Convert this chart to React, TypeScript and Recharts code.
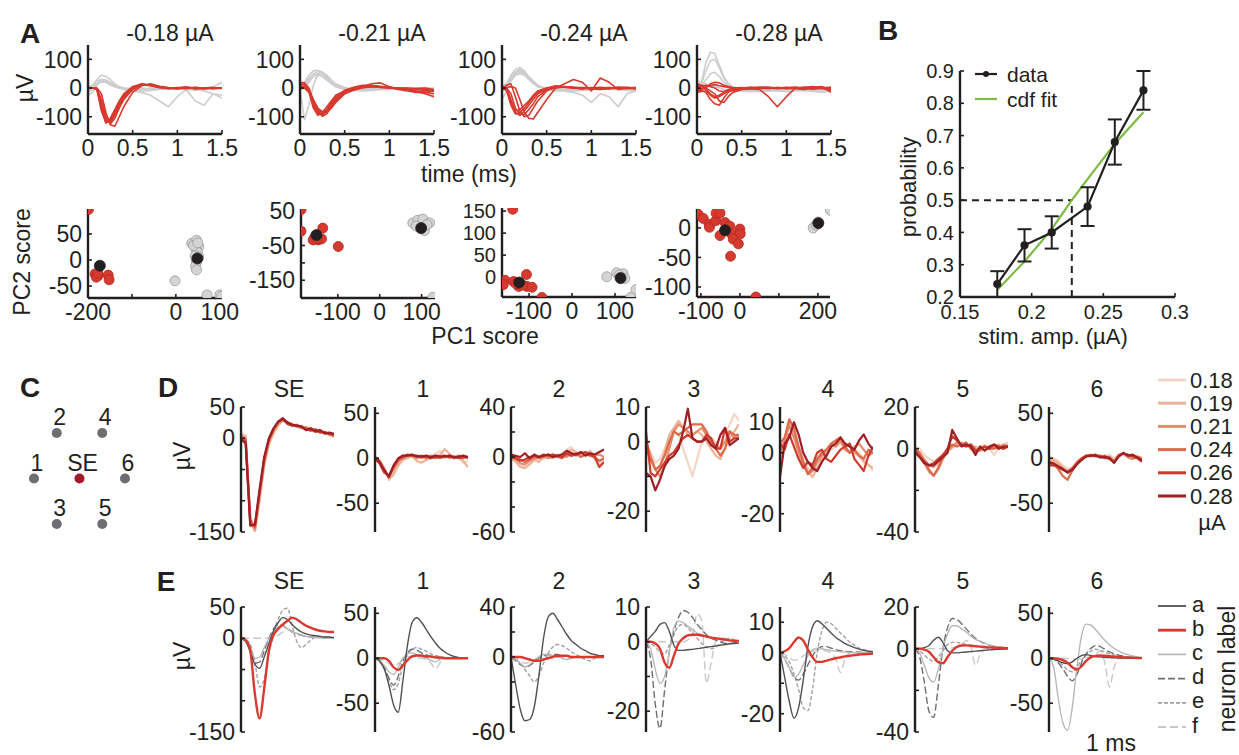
import React from "react";
import {
  LineChart,
  Line,
  XAxis,
  YAxis,
  ScatterChart,
  Scatter,
  ErrorBar,
  ReferenceLine,
} from "recharts";

const FONT = '"Liberation Sans", Arial, Helvetica, sans-serif';
const INK = "#231f20";
const FS = 23;

// ---------- A: single-electrode waveforms at four amplitudes ----------
const timeMs = [0, 0.05, 0.1, 0.15, 0.2, 0.25, 0.3, 0.35, 0.4, 0.5, 0.6, 0.7, 0.8, 0.9, 1.0, 1.1, 1.2, 1.3, 1.4, 1.5];
const ampTitles = ["-0.18 µA", "-0.21 µA", "-0.24 µA", "-0.28 µA"];
const timeTicks = [0, 0.5, 1, 1.5];
const timeTickText = ["0", "0.5", "1", "1.5"];
const uvTicks = [-100, 0, 100];
const uvTickText = ["-100", "0", "100"];

const evoked018 = [
  [0, 0, -5, -80, -120, -105, -75, -45, -20, 5, 12, 8, 2, 0, -2, 3, 0, -2, 0, 0],
  [0, 0, -3, -60, -115, -118, -90, -58, -30, 2, 14, 10, 3, -2, 0, 4, -3, 0, 2, 0],
  [2, 1, -2, -40, -100, -125, -105, -70, -40, -5, 10, 12, 5, 0, 2, 0, 3, -2, 0, 1],
  [0, 0, 0, -20, -85, -128, -133, -100, -65, -15, 8, 15, 6, 2, 0, -2, 2, 0, -3, 0],
  [0, 0, -4, -70, -122, -112, -80, -50, -25, 3, 15, 9, 1, 0, -3, 2, 0, 1, 0, -1],
  [1, 0, -2, -55, -110, -120, -95, -60, -35, 0, 12, 11, 4, -1, 1, 3, -1, -2, 1, 0],
];
const other018 = [
  [-10, 5, 30, 45, 40, 30, 15, 5, 0, -5, -3, 0, -2, -3, -2, 0, -2, 0, 2, 0],
  [-25, -15, 10, 30, 25, 15, 5, 0, -5, -10, -15, -25, -45, -65, -30, -5, -45, -60, -20, -35],
  [0, 10, 25, 30, 28, 20, 10, 0, -3, -5, -5, -2, 0, -3, -2, -5, -8, 0, 5, 20],
  [-15, -5, 15, 25, 20, 10, 5, 2, 0, -8, -10, -8, -5, -5, -3, -5, -3, -10, -20, -25],
  [5, 8, 15, 20, 22, 15, 8, 3, 0, -2, 0, -3, -2, 0, -1, -2, 0, -1, 0, -2],
];
const evoked021 = [
  [20, 18, 0, -50, -85, -95, -80, -55, -35, -12, 0, 8, 10, 5, 2, 0, -5, -10, -15, -20],
  [15, 12, -5, -60, -90, -92, -75, -50, -30, -8, 3, 10, 8, 3, 0, -2, -5, -12, -20, -30],
  [0, 0, -10, -55, -80, -98, -90, -65, -45, -15, -5, 5, 15, 18, 5, -5, -10, -15, -15, -10],
  [2, 0, -15, -70, -95, -85, -65, -45, -25, -10, 0, 3, 5, 2, 0, -2, -3, -2, 0, -5],
  [8, 6, -8, -45, -75, -88, -85, -70, -50, -20, -8, 2, 6, 4, 2, 0, 0, -2, -5, -8],
  [5, 4, -3, -40, -70, -82, -78, -60, -40, -18, -6, 0, 5, 6, 3, 0, -2, -5, -8, -12],
];
const other021 = [
  [5, 20, 45, 60, 62, 55, 40, 25, 12, 0, -5, -5, -3, -2, 0, -2, -3, 0, -2, -5],
  [-10, 0, 30, 50, 58, 50, 35, 20, 8, -3, -8, -6, -5, -3, -5, -3, 0, -2, -5, -3],
  [-5, -110, -60, 10, 50, 55, 45, 28, 15, 2, -5, -8, -6, -4, -2, -3, -2, -1, 0, -2],
  [10, 15, 35, 48, 50, 42, 30, 18, 5, -5, -8, -10, -8, -6, -5, -4, -3, -5, -4, -6],
  [0, 5, 20, 40, 45, 40, 28, 15, 5, -2, -3, -4, -3, -2, -3, -2, -2, -1, 0, 0],
];
const evoked024 = [
  [0, -5, -60, -90, -85, -70, -50, -30, -15, 0, 3, 2, 0, -2, 0, 3, 0, -2, 0, 2],
  [5, 0, -40, -85, -95, -80, -60, -40, -20, -5, 0, 5, 2, 0, -2, 0, 2, 0, -2, 0],
  [-5, 10, 15, -30, -80, -100, -95, -70, -45, -10, 5, 3, 0, -3, 2, 0, -2, 3, 0, -3],
  [0, 2, 5, 0, -40, -85, -105, -108, -85, -40, 0, 15, 30, 20, -10, 35, 20, -5, 0, 2],
  [3, 0, -20, -70, -90, -92, -75, -55, -30, -8, 2, 4, 3, 0, -3, -5, -2, 0, 3, 0],
  [-3, -8, -50, -80, -75, -60, -45, -25, -10, 0, 8, 5, 3, 2, 0, -2, 0, 3, 2, -2],
];
const other024 = [
  [0, 15, 45, 65, 72, 60, 40, 25, 10, -5, -10, -8, -5, -3, -2, 0, -2, 0, -3, -2],
  [-40, -10, 30, 55, 65, 55, 38, 20, 8, -3, -8, -10, -15, -25, -50, -20, -30, -65, -20, -10],
  [5, 10, 35, 55, 60, 50, 35, 20, 5, -5, -5, -8, -10, -8, -5, -5, -3, -5, -8, -10],
  [0, 5, 25, 45, 50, 45, 30, 15, 5, 0, -3, -5, -3, -2, -3, -2, -1, -2, -3, -2],
  [10, 12, 30, 48, 55, 48, 32, 18, 6, -2, -6, -6, -8, -6, -4, -3, -4, -6, -5, -3],
];
const evoked028 = [
  [-5, -8, -15, -40, -55, -60, -35, -15, -5, 0, 3, 2, 0, -2, 0, 2, 0, -3, 0, 2],
  [10, 5, -5, -20, -30, -25, -15, -5, 0, 2, 0, -2, 0, 2, -1, 0, 2, 0, -2, 0],
  [-10, -5, 0, 15, 20, 18, 10, 5, 2, 0, -2, -5, -30, -65, -30, 0, 2, -3, 0, -10],
  [15, 10, 0, -10, -20, -45, -50, -30, -15, -5, 0, 3, 2, 0, 3, 2, 0, 2, 5, -15],
  [0, -3, 5, 10, 12, 8, 5, 3, 0, -2, 0, 2, 3, 0, -2, 0, 3, 5, 0, 3],
  [-15, -12, -10, -25, -35, -30, -20, -10, -8, -5, -3, 0, 2, 0, 0, -2, -5, 0, 2, -5],
  [5, 8, 10, 5, 0, -10, -12, -8, -3, 0, 2, 0, -2, 2, 0, 3, 0, -2, 3, 0],
];
const other028 = [
  [10, 20, 90, 125, 120, 80, 40, 15, 5, -5, -8, -10, -8, -5, -3, -5, -8, -10, -5, -5],
  [5, 15, 60, 95, 100, 70, 35, 12, 2, -5, -10, -12, -10, -8, -6, -5, -6, -8, -10, -8],
  [0, 5, 30, 50, 55, 40, 20, 5, 0, -5, -5, -8, -6, -5, -5, -3, -4, -5, -6, -5],
  [25, 20, 15, 10, 5, 0, -5, -8, -10, -10, -12, -10, -8, -10, -12, -10, -8, -12, -15, -10],
];

// ---------- A: PCA scores (PC1, PC2) ----------
const pcRed1 = [[-199, 97], [-184, -27], [-177, -30], [-181, -33], [-178, -25], [-154, -29], [-152, -38]];
const pcGray1 = [[36, 32], [47, 38], [43, 26], [52, 26], [46, 20], [49, 15], [44, 8], [52, 6], [47, 2], [47, -4], [45, -12], [47, -19], [40, 28], [50, 33], [-2, -40], [71, -67], [100, -67], [104, -70]];
const pcMean1 = [[-173, -11], [49, 3]];
const pcRed2 = [[-188, 53], [-188, -9], [-136, 0], [-155, -26], [-147, -34], [-139, -31], [-159, -34], [-150, -30], [-99, -53]];
const pcGray2 = [[79, 15], [91, 23], [103, 26], [119, 15], [95, 1], [107, -7], [87, 6], [113, 10], [127, -199]];
const pcMean2 = [[-151, -20], [99, 0]];
const pcRed3 = [[-138, 154], [-156, -7], [-160, -17], [-136, -10], [-124, -21], [-106, 6], [-105, -21], [-93, -23], [-70, -46], [-130, -15], [-115, -18]];
const pcGray3 = [[81, 1], [104, 10], [119, 8], [123, -3], [110, 5], [149, -28], [137, -46]];
const pcMean3 = [[-123, -12], [113, -2]];
const pcRed4 = [[-107, 23], [-94, 16], [-79, 6], [-78, 1], [-62, 12], [-61, 25], [-51, 25], [-38, 9], [-26, 3], [-51, -13], [-22, -10], [0, -2], [1, -10], [-17, -19], [-4, -27], [-24, -48], [41, -117]];
const pcGray4 = [[232, 30], [188, 0], [201, 10], [195, 5]];
const pcMean4 = [[-38, -4], [201, 8]];

// ---------- B: activation probability vs stimulus amplitude ----------
const stimAmp = [0.176, 0.195, 0.214, 0.239, 0.258, 0.278];
const probability = [0.24, 0.36, 0.4, 0.48, 0.68, 0.84];
const probErr = [0.04, 0.05, 0.05, 0.06, 0.07, 0.06];
const cdfAmp = [0.176, 0.195, 0.214, 0.228, 0.239, 0.258, 0.278];
const cdfProb = [0.222, 0.31, 0.41, 0.5, 0.565, 0.675, 0.772];
const threshold = 0.228;
const ampTicks = [0.15, 0.2, 0.25, 0.3];
const probTicks = [0.2, 0.3, 0.4, 0.5, 0.6, 0.7, 0.8, 0.9];

// ---------- C: electrode layout ----------
const electrodeNames = ["1", "2", "3", "SE", "4", "5", "6"];
const electrodeCol = [-2, -1, -1, 0, 1, 1, 2];
const electrodeRow = [0, 1, -1, 0, 1, -1, 0];

// ---------- D / E: mean waveforms per electrode ----------
const sampleMs = [0, 0.1, 0.2, 0.3, 0.4, 0.5, 0.6, 0.7, 0.8, 0.9, 1.0, 1.1, 1.2, 1.3, 1.4, 1.5, 1.6, 1.7, 1.8, 1.9, 2.0];
const electrodeTitles = ["SE", "1", "2", "3", "4", "5", "6"];
const stimLabels = ["0.18", "0.19", "0.21", "0.24", "0.26", "0.28"];
const stimColors = ["#f3d6c6", "#edb398", "#e48c6c", "#dc6a4e", "#cc3b2d", "#9e1f24"];
const neuronLabels = ["a", "b", "c", "d", "e", "f"];

const yDomains: [number, number][] = [[-150, 50], [-82, 57], [-60, 40], [-26, 10], [-26, 15], [-40, 20], [-82, 57]];
const yTickSets = [[-150, -100, -50, 0, 50], [-50, 0, 50], [-60, -40, -20, 0, 20, 40], [-20, -10, 0, 10], [-20, -10, 0, 10], [-40, -20, 0, 20], [-50, 0, 50]];
const yTickTexts = [["-150", "", "", "0", "50"], ["-50", "0", "50"], ["-60", "", "", "0", "", "40"], ["-20", "", "0", "10"], ["-20", "", "0", "10"], ["-40", "", "0", "20"], ["-50", "0", "50"]];

// rows: 0.18, 0.19, 0.21, 0.24, 0.26, 0.28 µA
const avgSE = [
  [8, 5, -125, -148, -95, -40, -8, 10, 22, 28, 27, 22, 20, 18, 15, 17, 12, 14, 8, 6, 3],
  [6, 2, -130, -150, -100, -45, -10, 8, 20, 30, 25, 23, 18, 20, 16, 14, 15, 10, 10, 5, 4],
  [4, 0, -135, -145, -90, -38, -5, 12, 24, 29, 26, 20, 22, 16, 18, 13, 12, 12, 7, 8, 2],
  [2, -2, -130, -142, -88, -35, -4, 14, 25, 31, 24, 21, 19, 17, 14, 15, 10, 11, 9, 6, 5],
  [0, -5, -138, -140, -85, -32, -2, 15, 26, 30, 23, 20, 21, 18, 15, 12, 14, 9, 10, 7, 6],
  [-2, -8, -140, -138, -82, -30, 0, 16, 27, 32, 25, 22, 20, 19, 13, 16, 11, 13, 8, 9, 7],
];
const avg1 = [
  [0, -3, -12, -22, -15, -5, 0, 2, 3, 2, 0, 3, 2, 5, 8, 3, 0, 2, 0, -5, -3],
  [2, -2, -10, -24, -18, -8, -2, 0, 3, -3, -5, -2, 0, 2, 4, 10, 5, 0, 2, -3, -10],
  [0, -4, -14, -21, -12, -4, 2, 4, 2, 0, 2, 0, 3, 1, 0, 2, 3, 1, 3, 0, 2],
  [-1, -5, -15, -20, -10, -2, 0, 3, 4, 2, 3, 1, 2, 0, 2, 1, 2, 0, 1, 2, 0],
  [0, -6, -16, -19, -9, -1, 2, 4, 3, 3, 1, 2, 0, 2, 1, 3, 1, 2, 0, 1, 2],
  [1, -4, -13, -21, -8, 0, 3, 3, 4, 2, 2, 3, 1, 3, 2, 2, 3, 1, 2, 3, 1],
];
const avg2 = [
  [-2, -3, -6, -8, -5, -3, 0, -2, 0, 2, 0, 3, 6, 8, 2, 0, 3, 2, -2, -4, -6],
  [0, -4, -8, -9, -6, -2, -4, 0, 1, -1, 2, 0, 3, 6, 4, 1, 2, 5, 0, -3, -2],
  [-1, -2, -5, -6, -3, -1, 0, 1, -1, 0, 1, 2, 0, 3, 1, 4, 2, 3, 1, 2, 0],
  [1, 0, -2, -4, -2, 0, -1, 0, 2, 1, 0, -1, 2, 1, 3, 0, 2, 1, 0, -3, -1],
  [0, -1, -3, -2, 0, 1, 0, 2, 1, 2, 1, 0, 3, 1, 2, 3, 4, 2, 0, -8, -4],
  [2, 1, 0, 3, -1, 2, 0, 1, 2, 0, 1, 2, 5, 3, 2, 4, 1, 3, 2, 4, 6],
];
const avg3 = [
  [-1, -3, -6, -5, -2, 1, 3, 2, -2, -6, -10, -5, 0, 2, 1, 0, -2, 2, 5, 8, 6],
  [-2, -5, -8, -7, -3, 2, 4, 6, 4, 2, 2, 3, 2, 0, -2, -4, -5, -2, 1, 3, 5],
  [0, -4, -8, -10, -7, -2, 3, 5, 4, 3, 2, 3, 4, 2, 0, -1, -2, 0, 3, 1, 2],
  [-2, -5, -8, -7, -4, 0, 3, 2, 3, 4, 5, 5, 5, 3, 0, -2, -4, -2, 3, 2, 2],
  [3, -9, -10, -8, -6, -4, -3, -1, 1, 2, 1, 0, 0, 2, 1, -2, -2, 4, 0, 1, 1],
  [-9, -10, -14, -11, -7, -5, -4, -2, 3, 9.5, 1, 0, 0, 1, -1, -2, 2, 4, -1, 0, 1],
];
const avg4 = [
  [-2, 2, 6, 5, 2, -2, -5, -6, -4, -2, 0, 1, 2, 3, 2, 3, 1, 0, -2, -4, -6],
  [-3, 3, 10, 6, 1, -3, -6, -8, -5, -2, 0, 2, 3, 4, 3, 2, 0, -1, -3, -4, -5],
  [0, 4, 9, 5, 0, -4, -7, -6, -3, -1, 1, 3, 2, 4, 1, 0, 2, 3, 1, -1, 0],
  [3, 5, 11, 8, 2, -3, -7, -5, -2, 0, 1, 3, 4, 5, 2, 0, 1, -1, -2, 1, 0],
  [3, 1, 6, 2, -2, -5, -3, -4, 0, 1, -2, -3, -1, 1, 2, 3, -2, -4, -6, -1, 2],
  [-8, 3, 5, 10, 6, 0, -3, -5, -6, -3, -1, 2, 3, 5, 3, 2, 1, 4, 6, 3, 1],
];
const avg5 = [
  [1, 0, -3, -5, -6, -5, -3, -1, 0, 2, 3, 2, 1, 0, 1, 2, 0, -3, 0, 2, 3],
  [0, -2, -5, -8, -9, -7, -4, -1, 1, 2, 3, 2, 0, 1, -1, 0, 1, 0, 2, 1, 2],
  [-1, -3, -7, -11, -13, -10, -5, -1, 1, 3, 2, 1, 2, 0, -1, 1, 0, 1, 0, 2, 1],
  [0, -2, -6, -10, -13, -9, -4, 0, 2, 1, 2, 3, 0, -2, 0, 1, 0, 0, 1, 0, 1],
  [-1, -4, -6, -8, -7, -5, -3, 0, 6, 4, 2, 1, 2, -1, 0, 1, 0, 2, 1, 0, 1],
  [-2, -4, -7, -8, -8, -6, -4, -2, 9, 5, 1, 2, 1, -3, 1, -1, 1, 2, 0, 1, 1],
];
const avg6 = [
  [2, 0, -3, -8, -12, -10, -5, 0, 3, 4, 2, 3, 1, 4, 0, 2, 5, 3, 0, 2, 1],
  [0, -2, -5, -10, -14, -12, -6, -1, 2, 3, 3, 2, 0, 2, -2, 3, 6, 2, 1, 0, -2],
  [-3, -5, -8, -12, -16, -11, -4, 0, 3, 2, 4, 1, 3, 0, -3, 4, 5, 1, -1, 2, 0],
  [-4, -6, -12, -20, -24, -14, -5, 0, 2, 4, 2, 3, 1, -1, -4, 2, 6, 2, 3, 1, -3],
  [-8, -8, -10, -13, -15, -12, -6, -1, 3, 3, 4, 2, 0, 1, -5, 3, 5, 4, 2, 0, -4],
  [-5, -6, -9, -12, -16, -13, -7, -2, 2, 3, 3, 1, 2, 0, -5, 2, 6, 3, 4, 1, -2],
];

// rows: neurons a, b, c, d, e, f
const tmplSE = [
  [0, -5, -22, -42, -48, -30, -8, 12, 25, 33, 30, 22, 15, 10, 7, 5, 4, 3, 2, 2, 1],
  [0, -3, -20, -90, -128, -80, -20, 5, 15, 22, 28, 33, 30, 25, 20, 17, 14, 12, 11, 10, 10],
  [0, -5, -15, -32, -30, -15, 0, 10, 18, 20, 15, 10, 8, 5, 3, 2, 1, 1, 0, 0, 0],
  [0, -3, -15, -40, -38, -20, 0, 15, 22, 20, 15, 10, 7, 5, 3, 2, 2, 1, 1, 0, 0],
  [0, -2, -10, -40, -78, -65, -25, 10, 30, 45, 48, 20, -5, -15, -10, -3, 2, 3, 2, 1, 0],
  [0, 0, 0, 0, 0, 0, 0, 2, 5, 10, 14, 12, 8, 5, 3, 2, 1, 0, 0, 0, 0],
];
const tmpl1 = [
  [0, -3, -12, -30, -52, -60, -25, 15, 40, 45, 40, 32, 24, 17, 11, 7, 4, 2, 1, 0, 0],
  [0, 0, 0, -3, -10, -13, -8, -2, 2, 3, 3, 2, 2, 1, 1, 0, 0, 0, 0, 0, 0],
  [0, -3, -8, -15, -18, -10, 0, 5, 6, 4, 2, 0, -2, -4, -1, 0, 0, 0, 0, 0, 0],
  [0, -3, -10, -22, -30, -20, -3, 6, 10, 9, 6, 4, 2, 1, 0, 0, 0, 0, 0, 0, 0],
  [0, -4, -12, -25, -35, -28, -8, 5, 10, 12, 10, 8, 5, 3, 2, 1, 0, 0, 0, 0, 0],
  [0, -1, -3, -6, -9, -6, -1, 2, 2, 1, 0, -1, -5, -12, -5, 0, 1, 0, 0, 0, 0],
];
const tmpl2 = [
  [0, -22, -42, -51, -50, -40, -15, 15, 32, 35, 30, 24, 18, 13, 10, 7, 5, 3, 2, 1, 1],
  [0, 0, 0, -1, -2, -3, -3, -2, -1, 0, 1, 1, 1, 0, 0, 0, 0, 0, 0, 0, 0],
  [0, -2, -5, -8, -6, -3, 0, 2, 2, 1, 0, -1, -2, -1, 0, 0, 0, 0, 0, 0, 0],
  [0, -3, -6, -8, -7, -4, -1, 1, 2, 2, 2, 1, 1, 0, 0, 0, 0, 0, 0, 0, 0],
  [0, -2, -5, -10, -15, -20, -15, -5, 3, 8, 10, 9, 7, 4, 2, 0, -2, -3, -1, 0, 0],
  [0, -1, -3, -5, -4, -2, 0, 1, 1, 0, 0, 0, -1, 0, 0, 0, 0, 0, 0, 0, 0],
];
const tmpl3 = [
  [0, 1.5, 3, 5, 5.5, 3, -1, -2.5, -2.5, -2.3, -2.2, -2, -1.8, -1.6, -1.4, -1.2, -1, -0.8, -0.6, -0.5, -0.4],
  [0, 0, -0.5, -2, -6, -7.5, -4, -0.5, 1, 1.8, 2, 2, 1.8, 1.5, 1.2, 1, 0.8, 0.6, 0.4, 0.3, 0.2],
  [0, -2, -8, -12, -10, -3, 4, 6, 5.5, 4.5, 3.5, 2.5, 2, 1.5, 1.2, 1, 0.8, 0.5, 0.3, 0.2, 0.2],
  [0, -5, -18, -25, -14, -3, 3, 7, 9, 8.5, 7, 5, 3.5, 2, 1, 0.5, 0, -0.5, -0.5, -0.3, -0.2],
  [0, -0.5, -1.5, -3, -3.5, -1, 2, 4.5, 5, 4, 2.5, 1, -0.5, -1.5, -2, -1.5, -0.5, 0.5, 1, 0.5, 0.2],
  [0, 0, 0, 0, 0, 0, 0, 0, 0, 0.5, 2, 8, 6, -12, -6, 0, 1, 1, 0.5, 0.2, 0],
];
const tmpl4 = [
  [0, -8, -16, -21.5, -18, -9, 2, 8.5, 10.5, 9.5, 8, 6.5, 5, 4, 3, 2.3, 1.7, 1.2, 0.8, 0.5, 0.3],
  [0, 0.5, 1.5, 3.5, 5, 4, 1, -1.5, -3, -3, -2.6, -2.2, -1.8, -1.5, -1.2, -1, -0.8, -0.6, -0.5, -0.4, -0.3],
  [0, -2, -5, -8, -7, -4, -1, 1, 1.5, 1.3, 1, 0.7, 0.5, 0.3, 0.2, 0.1, 0, 0, 0, 0, 0],
  [0, -2, -5, -8, -9, -7, -4, -1, 1, 2, 2, 1.5, 1, 0.7, 0.5, 0.3, 0.2, 0.1, 0, 0, 0],
  [0, -1, -3, -7, -12, -18, -19, -12, 0, 7, 10, 9.5, 8, 6.5, 5, 3.5, 2.5, 1.5, 1, 0.5, 0.3],
  [0, -0.5, -1.5, -2.5, -2, -1, 0, 0.5, 1, 1, 0.5, 0, -2, -6.5, -2, 0, 0.5, 0.3, 0.2, 0, 0],
];
const tmpl5 = [
  [0, 0, 0.5, 1.5, 4, 5.5, 3, -1, -2, -2, -1.8, -1.6, -1.4, -1.2, -1, -0.8, -0.6, -0.4, -0.3, -0.2, -0.1],
  [0, 0, -0.5, -1.5, -4, -6.5, -7, -4, -1, 0.8, 1.5, 1.6, 1.4, 1.2, 1, 0.8, 0.6, 0.5, 0.4, 0.3, 0.2],
  [0, -2, -8, -14, -16, -10, 0, 7, 11, 11, 9.5, 8, 6, 4.5, 3.5, 2.5, 1.8, 1.2, 0.8, 0.5, 0.3],
  [0, -4, -16, -30, -33, -18, 0, 10, 14.5, 14, 12, 9.5, 7, 5, 3.5, 2.5, 1.7, 1.1, 0.7, 0.4, 0.2],
  [0, -1, -3, -5, -6, -4, -1, 2, 3, 3, 2.5, 2, 1.5, 1, 0.7, 0.5, 0.3, 0.2, 0.1, 0, 0],
  [0, 0, 0, 0, 0, 0, 0, 0, 0.5, 1, 2, 4, 1, -8, -3, 0, 0.5, 0.3, 0.1, 0, 0],
];
const tmpl6 = [
  [0, -1, -3, -5, -6, -4, 0, 3, 4, 3, 2, 1.5, 1, 0.7, 0.5, 0.3, 0.2, 0.1, 0, 0, 0],
  [0, 0, -0.5, -2, -5, -10, -12.5, -9, -3, 1, 2.5, 3, 2.8, 2.3, 1.8, 1.3, 1, 0.7, 0.5, 0.3, 0.2],
  [0, -10, -45, -72, -80, -55, -10, 25, 38, 37, 32, 26, 20, 15, 11, 8, 5.5, 4, 2.5, 1.5, 1],
  [0, -1, -5, -12, -20, -25, -18, -5, 5, 11, 14, 13, 10, 7, 5, 3.5, 2.3, 1.5, 1, 0.5, 0.3],
  [0, -1, -3, -8, -13, -15, -10, -2, 4, 8, 10, 9, 7, 5, 3.5, 2.5, 1.5, 1, 0.6, 0.3, 0.2],
  [0, 0, 0, 0, -0.5, -1, -1, 0, 1, 2, 4, 8, -5, -32, -10, 0, 1, 0.5, 0.2, 0, 0],
];

const avgByElectrode = [avgSE, avg1, avg2, avg3, avg4, avg5, avg6];
const tmplByElectrode = [tmplSE, tmpl1, tmpl2, tmpl3, tmpl4, tmpl5, tmpl6];

// line styles for neurons a-f
const neuronStyles = [
  { color: "#505052", width: 1.4, dash: undefined },
  { color: "#da3a2e", width: 2.4, dash: undefined },
  { color: "#b9b9b9", width: 1.4, dash: undefined },
  { color: "#6e6e6e", width: 1.4, dash: "7 3" },
  { color: "#a2a2a2", width: 1.4, dash: "4 2" },
  { color: "#c8c8c8", width: 1.4, dash: "8 4" },
];

const panelLefts = [241, 375, 511, 646, 780, 915, 1049];
const waveLefts = [88, 300, 502, 697];

type Trace = { values: number[]; color: string; width: number; dash?: string };

const axisStyle = (fontSize: number) => ({
  axisLine: { stroke: INK, strokeWidth: 2.4 },
  tickLine: { stroke: INK, strokeWidth: 1.6 },
  tickSize: -4,
  tick: { fill: INK, fontSize },
  interval: 0 as const,
});

const fromList = (ticks: number[], text: string[]) => (v: number) => {
  const i = ticks.findIndex((t) => Math.abs(t - v) < 1e-9);
  return i < 0 ? "" : text[i];
};

function TracePanel(p: {
  left: number; top: number; width: number; height: number;
  xs: number[]; xDomain: [number, number]; xTicks?: number[]; xTickText?: string[];
  yDomain: [number, number]; yTicks: number[]; yTickText: string[];
  traces: Trace[]; curve?: "linear" | "monotone"; fontSize: number;
}) {
  const padL = 72, padR = 24, padT = 14;
  const padB = p.xTicks ? 34 : 16;
  const rows = p.xs.map((x, i) => {
    const row: Record<string, number> = { x };
    p.traces.forEach((tr, k) => { row[`s${k}`] = tr.values[i]; });
    return row;
  });
  return (
    <div style={{ position: "absolute", left: p.left - padL, top: p.top - padT }}>
      <LineChart
        width={p.width + padL + padR}
        height={p.height + padT + padB}
        data={rows}
        margin={{ top: padT, right: padR, left: 0, bottom: p.xTicks ? 0 : padB }}
      >
        <XAxis
          type="number" dataKey="x" domain={p.xDomain} hide={!p.xTicks} ticks={p.xTicks}
          height={padB} allowDataOverflow {...axisStyle(p.fontSize)} tickMargin={10}
          tickFormatter={p.xTicks ? fromList(p.xTicks, p.xTickText || []) : undefined}
        />
        <YAxis
          type="number" domain={p.yDomain} ticks={p.yTicks} width={padL} allowDataOverflow
          {...axisStyle(p.fontSize)} tickMargin={10} tickFormatter={fromList(p.yTicks, p.yTickText)}
        />
        {p.traces.map((tr, k) => (
          <Line
            key={k} dataKey={`s${k}`} type={p.curve ?? "linear"} stroke={tr.color}
            strokeWidth={tr.width} strokeDasharray={tr.dash} dot={false}
            isAnimationActive={false} strokeLinejoin="round"
          />
        ))}
      </LineChart>
    </div>
  );
}

type Cloud = { points: number[][]; fill: string; stroke: string; r: number };

function ScorePanel(p: {
  left: number; top: number; width: number; height: number;
  xDomain: [number, number]; xTicks: number[]; xTickText: string[];
  yDomain: [number, number]; yTicks: number[]; yTickText: string[];
  yFont: number; clouds: Cloud[];
}) {
  const padL = 72, padR = 26, padT = 14, padB = 34;
  return (
    <div style={{ position: "absolute", left: p.left - padL, top: p.top - padT }}>
      <ScatterChart
        width={p.width + padL + padR}
        height={p.height + padT + padB}
        margin={{ top: padT, right: padR, left: 0, bottom: 0 }}
      >
        <XAxis
          type="number" dataKey="x" domain={p.xDomain} ticks={p.xTicks} height={padB}
          allowDataOverflow {...axisStyle(FS)} tickMargin={10} tickFormatter={fromList(p.xTicks, p.xTickText)}
        />
        <YAxis
          type="number" dataKey="y" domain={p.yDomain} ticks={p.yTicks} width={padL}
          allowDataOverflow {...axisStyle(p.yFont)} tickMargin={10} tickFormatter={fromList(p.yTicks, p.yTickText)}
        />
        {p.clouds.map((c, k) => (
          <Scatter
            key={k}
            data={c.points.map(([x, y]) => ({ x, y }))}
            isAnimationActive={false}
            shape={(s: any) => (
              <circle cx={s.cx} cy={s.cy} r={c.r} fill={c.fill} stroke={c.stroke} strokeWidth={0.8} />
            )}
          />
        ))}
      </ScatterChart>
    </div>
  );
}

const RED = "#d8392e";
const GRAY = "#cdcdcd";

function scoreClouds(red: number[][], gray: number[][], mean: number[][]): Cloud[] {
  return [
    { points: gray, fill: "#d4d4d4", stroke: "#9a9a9a", r: 5 },
    { points: red, fill: "#d63a2f", stroke: "#b02a22", r: 5 },
    { points: mean, fill: INK, stroke: INK, r: 5.5 },
  ];
}

function PsychometricPanel() {
  const padL = 70, padR = 30, padT = 10, padB = 34;
  const left = 960, top = 71, w = 215, h = 226;
  const dataRows = stimAmp.map((x, i) => ({ x, p: probability[i], err: probErr[i] }));
  const fitRows = cdfAmp.map((x, i) => ({ x, p: cdfProb[i] }));
  return (
    <div style={{ position: "absolute", left: left - padL, top: top - padT }}>
      <LineChart width={w + padL + padR} height={h + padT + padB} margin={{ top: padT, right: padR, left: 0, bottom: 0 }}>
        <XAxis
          type="number" dataKey="x" domain={[0.15, 0.3]} ticks={ampTicks} height={padB}
          allowDataOverflow {...axisStyle(20)} tickMargin={12}
        />
        <YAxis
          type="number" domain={[0.2, 0.9]} ticks={probTicks} width={padL} allowDataOverflow
          {...axisStyle(20)} tickMargin={10} tickFormatter={(v: number) => v.toFixed(1)}
        />
        <ReferenceLine segment={[{ x: 0.15, y: 0.5 }, { x: threshold, y: 0.5 }]} stroke={INK} strokeWidth={2} strokeDasharray="7 5" />
        <ReferenceLine segment={[{ x: threshold, y: 0.2 }, { x: threshold, y: 0.5 }]} stroke={INK} strokeWidth={2} strokeDasharray="7 5" />
        <Line data={fitRows} dataKey="p" stroke="#7dba42" strokeWidth={2.2} dot={false} isAnimationActive={false} />
        <Line
          data={dataRows} dataKey="p" stroke={INK} strokeWidth={2.2}
          dot={{ r: 3, fill: INK, stroke: INK }} isAnimationActive={false}
        >
          <ErrorBar dataKey="err" width={7} stroke={INK} strokeWidth={2} direction="y" isAnimationActive={false} />
        </Line>
      </LineChart>
    </div>
  );
}

function ElectrodeMap() {
  const rows = electrodeNames.map((name, i) => ({ name, x: electrodeCol[i], y: electrodeRow[i] }));
  return (
    <div style={{ position: "absolute", left: 24, top: 403 }}>
      <ScatterChart width={111} height={131} margin={{ top: 30, right: 10, bottom: 10, left: 10 }}>
        <XAxis type="number" dataKey="x" domain={[-2, 2]} hide />
        <YAxis type="number" dataKey="y" domain={[-1, 1]} hide />
        <Scatter
          data={rows}
          isAnimationActive={false}
          shape={(s: any) => (
            <g>
              <circle cx={s.cx} cy={s.cy} r={5} fill={s.payload.name === "SE" ? "#a3182b" : "#6d6e71"} />
              <text x={s.cx + 3} y={s.cy - 8} textAnchor="middle" fontSize={FS} fill={INK}>
                {s.payload.name}
              </text>
            </g>
          )}
        />
      </ScatterChart>
    </div>
  );
}

function Caption(p: {
  x: number; y: number; children: React.ReactNode; size?: number; bold?: boolean;
  rotate?: boolean; anchor?: "start" | "middle" | "end";
}) {
  return (
    <text
      x={p.x} y={p.y} fontSize={p.size ?? FS} fontWeight={p.bold ? 700 : 400}
      textAnchor={p.anchor ?? "middle"} dominantBaseline="central" fill={INK}
      transform={p.rotate ? `rotate(-90 ${p.x} ${p.y})` : undefined}
    >
      {p.children}
    </text>
  );
}

export default function App() {
  const evoked = [evoked018, evoked021, evoked024, evoked028];
  const other = [other018, other021, other024, other028];
  const scores = [
    { left: 88, top: 209, width: 134, height: 89, xDomain: [-200, 105], xTicks: [-200, -100, 0, 100], xTickText: ["-200", "", "0", "100"], yDomain: [-73, 98], yTicks: [-50, 0, 50], yTickText: ["-50", "0", "50"], yFont: FS, clouds: scoreClouds(pcRed1, pcGray1, pcMean1) },
    { left: 301, top: 209, width: 134, height: 89, xDomain: [-188, 132], xTicks: [-100, 0, 100], xTickText: ["-100", "0", "100"], yDomain: [-201, 55], yTicks: [-150, -100, -50, 0, 50], yTickText: ["-150", "", "-50", "", "50"], yFont: FS, clouds: scoreClouds(pcRed2, pcGray2, pcMean2) },
    { left: 502, top: 208, width: 134, height: 89, xDomain: [-163, 149], xTicks: [-100, 0, 100], xTickText: ["-100", "0", "100"], yDomain: [-45, 157], yTicks: [0, 50, 100, 150], yTickText: ["0", "50", "100", "150"], yFont: 20, clouds: scoreClouds(pcRed3, pcGray3, pcMean3) },
    { left: 697, top: 209, width: 133, height: 88, xDomain: [-110, 231], xTicks: [-100, 0, 100, 200], xTickText: ["-100", "0", "", "200"], yDomain: [-117, 32], yTicks: [-100, -50, 0], yTickText: ["-100", "-50", "0"], yFont: FS, clouds: scoreClouds(pcRed4, pcGray4, pcMean4) },
  ];

  return (
    <div style={{ position: "absolute", left: 0, top: 0, width: 1239, height: 755, background: "#fff", fontFamily: FONT, overflow: "hidden" }}>
      {waveLefts.map((left, k) => (
        <TracePanel
          key={`a${k}`} left={left} top={45} width={134} height={89}
          xs={timeMs} xDomain={[0, 1.5]} xTicks={timeTicks} xTickText={timeTickText}
          yDomain={[-160, 150]} yTicks={uvTicks} yTickText={uvTickText} fontSize={FS}
          traces={[
            ...other[k].map((v) => ({ values: v, color: GRAY, width: 1.6 })),
            ...evoked[k].map((v) => ({ values: v, color: RED, width: 1.6 })),
          ]}
        />
      ))}

      {scores.map((s, k) => (
        <ScorePanel key={`s${k}`} {...(s as any)} />
      ))}

      <PsychometricPanel />
      <ElectrodeMap />

      {panelLefts.map((left, k) => (
        <TracePanel
          key={`d${k}`} left={left} top={407} width={93} height={125}
          xs={sampleMs} xDomain={[0, 2]} yDomain={yDomains[k]} yTicks={yTickSets[k]}
          yTickText={yTickTexts[k]} fontSize={FS}
          traces={avgByElectrode[k].map((v, i) => ({ values: v, color: stimColors[i], width: 2.2 }))}
        />
      ))}

      {panelLefts.map((left, k) => (
        <TracePanel
          key={`e${k}`} left={left} top={607} width={93} height={125}
          xs={sampleMs} xDomain={[0, 2]} yDomain={yDomains[k]} yTicks={yTickSets[k]}
          yTickText={yTickTexts[k]} fontSize={FS} curve="monotone"
          traces={[5, 4, 3, 2, 0, 1].map((i) => ({ values: tmplByElectrode[k][i], ...neuronStyles[i] }))}
        />
      ))}

      <svg width={1239} height={755} style={{ position: "absolute", left: 0, top: 0, pointerEvents: "none" }}>
        <Caption x={30} y={33} size={28} bold>A</Caption>
        <Caption x={888} y={30} size={28} bold>B</Caption>
        <Caption x={30} y={387} size={28} bold>C</Caption>
        <Caption x={168} y={387} size={28} bold>D</Caption>
        <Caption x={166} y={581} size={28} bold>E</Caption>

        {ampTitles.map((t, k) => (
          <Caption key={t} x={waveLefts[k] + 82} y={33}>{t}</Caption>
        ))}
        <Caption x={25} y={88} rotate>µV</Caption>
        <Caption x={469} y={174}>time (ms)</Caption>
        <Caption x={22} y={262} rotate>PC2 score</Caption>
        <Caption x={485} y={336}>PC1 score</Caption>

        <Caption x={908} y={187} size={22} rotate>probability</Caption>
        <Caption x={1053} y={336} size={22}>stim. amp. (µA)</Caption>
        <line x1={975} x2={997} y1={74} y2={74} stroke={INK} strokeWidth={2.2} />
        <circle cx={986} cy={74} r={3} fill={INK} />
        <Caption x={1007} y={74} size={21} anchor="start">data</Caption>
        <line x1={975} x2={997} y1={99} y2={99} stroke="#7dba42" strokeWidth={2.2} />
        <Caption x={1007} y={99} size={21} anchor="start">cdf fit</Caption>

        {electrodeTitles.map((t, k) => (
          <Caption key={`dt${k}`} x={panelLefts[k] + 48} y={389}>{t}</Caption>
        ))}
        {electrodeTitles.map((t, k) => (
          <Caption key={`et${k}`} x={panelLefts[k] + 48} y={581}>{t}</Caption>
        ))}
        <Caption x={182} y={456} rotate>µV</Caption>
        <Caption x={182} y={656} rotate>µV</Caption>

        {stimLabels.map((t, i) => (
          <g key={t}>
            <line x1={1158} x2={1186} y1={380 + i * 23.2} y2={380 + i * 23.2} stroke={stimColors[i]} strokeWidth={3} />
            <Caption x={1190} y={380 + i * 23.2} size={22} anchor="start">{t}</Caption>
          </g>
        ))}
        <Caption x={1212} y={522} size={22}>µA</Caption>

        {neuronLabels.map((t, i) => (
          <g key={t}>
            <line
              x1={1158} x2={1186} y1={606 + i * 24.2} y2={606 + i * 24.2}
              stroke={neuronStyles[i].color} strokeWidth={neuronStyles[i].width + 0.4}
              strokeDasharray={neuronStyles[i].dash}
            />
            <Caption x={1192} y={604 + i * 24.2} size={22} anchor="start">{t}</Caption>
          </g>
        ))}
        <Caption x={1227} y={669} rotate>neuron label</Caption>
        <Caption x={1111} y={743}>1 ms</Caption>
      </svg>
    </div>
  );
}
